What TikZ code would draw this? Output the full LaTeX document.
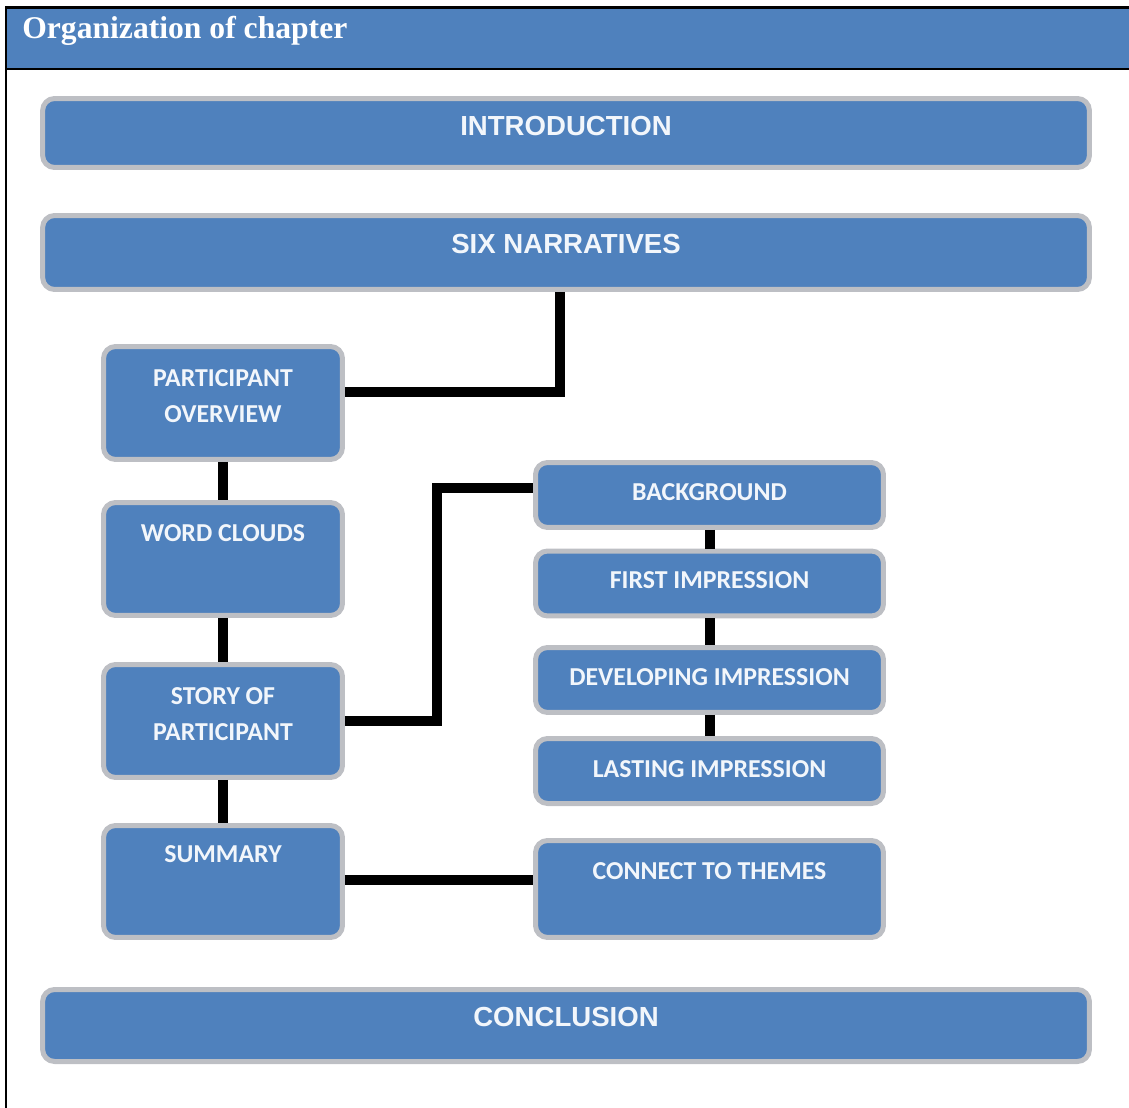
\documentclass[tikz,border=0pt]{standalone}
\usepackage{fontspec}
\setmainfont{Liberation Serif}
\newfontfamily\boxfont{Carlito}
\newfontfamily\bigfont{Liberation Sans}
\usepackage{xcolor}
\usepackage{tikz}
\usetikzlibrary{positioning}

\definecolor{boxblue}{HTML}{4F81BD}
\definecolor{boxrim}{HTML}{BDBFC4}
\definecolor{boxtext}{HTML}{F2F6FB}

\begin{document}
\begin{tikzpicture}[
  x=0.02cm, y=-0.02cm,
  box/.style={rectangle, rounded corners=0.24cm, draw=boxrim, line width=0.1cm, fill=boxblue,
    text=boxtext, align=center, inner sep=0pt},
  widebox/.style={box, minimum width=20.94cm, font=\bigfont\bfseries\fontsize{15.7}{19}\selectfont},
  leftbox/.style={box, minimum width=4.78cm, minimum height=2.26cm, font=\boxfont\bfseries\fontsize{14.7}{20}\selectfont},
  rightbox/.style={box, minimum width=6.96cm, minimum height=1.3cm, font=\boxfont\bfseries\fontsize{14.7}{18}\selectfont},
  lift/.style={text height=0.34cm, text depth=#1},
  link/.style={line width=0.2cm, black}
]
\useasboundingbox (0,0) rectangle (1129,1108);
% frame and heading
\fill[boxblue] (6,8) rectangle (1129,69);
\draw[line width=0.06cm] (5,8) -- (1129,8);
\draw[line width=0.05cm] (6,69) -- (1129,69);
\draw[line width=0.05cm] (6,8) -- (6,1108);
\node[anchor=base west, inner sep=0pt, text=white, font=\bfseries\fontsize{18}{22}\selectfont] (title) at (22,39) {Organization of chapter};

% top boxes
\node[widebox, minimum height=1.38cm, lift=0.24cm] (intro) at (566,133) {INTRODUCTION};
\node[widebox, minimum height=1.48cm, lift=0.3cm] (six) at (566,252.5) {SIX NARRATIVES};

% left column
\node[leftbox, text depth=0.28cm] (over) at (223,403) {PARTICIPANT\\OVERVIEW};
\node[leftbox, lift=1.04cm] (words) at (223,559) {WORD CLOUDS};
\node[leftbox, text depth=0.28cm] (story) at (223,721) {STORY OF\\PARTICIPANT};
\node[leftbox, minimum height=2.24cm, lift=1.1cm] (summ) at (223,881.5) {SUMMARY};

% right column
\node[rightbox, lift=0.14cm] (backg) at (709.5,495) {BACKGROUND};
\node[rightbox, lift=0.14cm] (first) at (709.5,583.5) {FIRST IMPRESSION};
\node[rightbox, lift=0.14cm] (develop) at (709.5,680) {DEVELOPING IMPRESSION};
\node[rightbox, lift=0.08cm] (lasting) at (709.5,771) {LASTING IMPRESSION};
\node[rightbox, minimum height=1.94cm, lift=0.72cm] (themes) at (709.5,889) {CONNECT TO THEMES};

% bottom box
\node[widebox, minimum height=1.44cm, lift=0.3cm] (concl) at (566,1025.5) {CONCLUSION};

% connectors
\draw[link] ([xshift=-0.12cm]six.south) |- ([yshift=0.22cm]over.east);
\draw[link] (over) -- (words);
\draw[link] (words) -- (story);
\draw[link] (story) -- (summ);
\draw[link] (story.east) -- ++(92,0) |- ([yshift=0.14cm]backg.west);
\draw[link] (backg) -- (first);
\draw[link] (first) -- (develop);
\draw[link] (develop) -- (lasting);
\draw[link] ([yshift=0.03cm]summ.east) -- ([yshift=0.03cm]summ.east -| themes.west);
\end{tikzpicture}
\end{document}
